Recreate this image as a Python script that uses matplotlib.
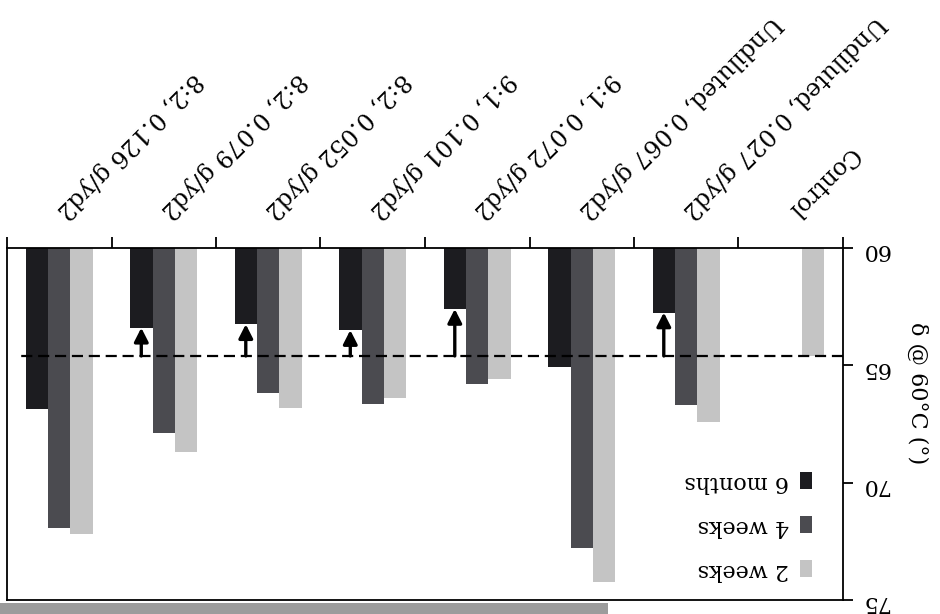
import numpy as np
import matplotlib
matplotlib.use("Agg")
import matplotlib.pyplot as plt
from matplotlib.patches import Rectangle

# Treatment groups (left to right in reading order of the data table)
categories = ["Control", "Undiluted, 0.027 g/yd2", "Undiluted, 0.067 g/yd2",
              "9:1, 0.072 g/yd2", "9:1, 0.101 g/yd2", "8:2, 0.052 g/yd2",
              "8:2, 0.079 g/yd2", "8:2, 0.126 g/yd2"]

# Contact angle at 60 degC for each ageing period
two_weeks = [64.6, 67.4, 74.25, 65.6, 66.4, 66.8, 68.7, 72.2]
four_weeks = [np.nan, 66.7, 72.8, 65.8, 66.65, 66.2, 67.9, 71.95]
six_months = [np.nan, 62.75, 65.05, 62.6, 63.5, 63.25, 63.4, 66.85]
series_labels = ["2 weeks", "4 weeks", "6 months"]

# Groups whose 6-month value dropped below the control level
arrow_groups = [1, 3, 4, 5, 6]
control_level = two_weeks[0]

y_ticks = [60, 65, 70, 75]
y_label = "δ @ 60°C (°)"

plt.rcParams["font.family"] = ["DejaVu Serif"]

fig = plt.figure(figsize=(9.4, 6.14), dpi=100)
ax = fig.add_axes([7 / 940, 14 / 614, 836 / 940, 352 / 614])

x = np.arange(len(categories))
w = 0.215
colors = ["#c4c4c4", "#4b4b50", "#1c1c20"]
offsets = [-w, 0.0, w]
bars = []
for vals, off, col, lab in zip([two_weeks, four_weeks, six_months], offsets,
                               colors, series_labels):
    v = np.asarray(vals, dtype=float)
    ok = ~np.isnan(v)
    b = ax.bar(x[ok] + off, v[ok] - 60, bottom=60, width=w, color=col,
               label=lab, zorder=2)
    bars.append(b)

# control reference line
ax.plot([-0.5, 7.4], [control_level, control_level], color="black", lw=1.6,
        ls=(0, (5, 2.6)), zorder=3)

# arrows from the control level up to the 6-month value
for i in arrow_groups:
    ax.annotate("", xy=(x[i] + w, six_months[i]),
                xytext=(x[i] + w, control_level),
                arrowprops=dict(arrowstyle="-|>,head_length=0.55,head_width=0.28",
                                mutation_scale=15, lw=2.4, color="black",
                                shrinkA=0, shrinkB=0),
                zorder=4)

# axes orientation
ax.set_xlim(7.5, -0.5)
ax.set_ylim(75, 60)

ax.xaxis.tick_top()
ax.set_xticks(x)
ax.set_xticklabels(categories, rotation=225, ha="right", va="center",
                   rotation_mode="anchor", fontsize=17)
ax.set_xticks(np.arange(-0.5, len(categories)), minor=True)
ax.tick_params(axis="x", which="major", length=0, pad=24)
ax.tick_params(axis="x", which="minor", length=8, width=1.3, direction="out",
               top=True, bottom=False)

ax.yaxis.tick_right()
ax.set_yticks(y_ticks)
ax.tick_params(axis="y", length=7, width=1.3, direction="out", labelsize=16,
               pad=6, left=False, right=True)
for t in ax.get_yticklabels():
    t.set_rotation(180)

ax.yaxis.set_label_position("right")
ax.set_ylabel(y_label, rotation=270, fontsize=16, ha="center", va="center")
ax.yaxis.set_label_coords(1.089, 0.588)

for s in ax.spines.values():
    s.set_linewidth(1.3)

# legend (entries listed bottom-up to follow the axis orientation)
leg = ax.legend([bars[2], bars[1], bars[0]],
                [series_labels[2], series_labels[1], series_labels[0]],
                loc="lower right", bbox_to_anchor=(0.987, -0.004),
                frameon=False, markerfirst=False, fontsize=16,
                handlelength=0.55, handleheight=0.8, handletextpad=0.5,
                labelspacing=1.0)
for t in leg.get_texts():
    t.set_rotation(180)

# grey strip along the lower edge
fig.add_artist(Rectangle((0, 0), 608 / 940, 11 / 614, transform=fig.transFigure,
                         facecolor="#9c9c9c", edgecolor="none"))

fig.savefig("out.png", dpi=100)
